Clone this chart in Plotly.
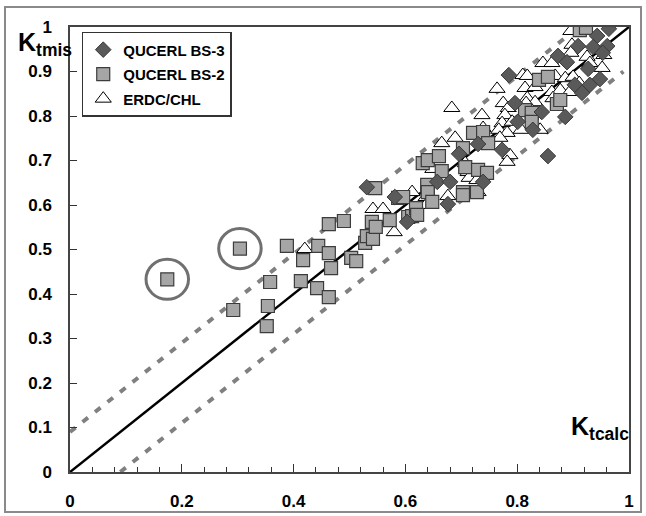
import plotly.graph_objects as go

# ---------------- data ----------------
bs3_x = [0.531, 0.581, 0.657, 0.680, 0.603, 0.676, 0.730, 0.696, 0.739, 0.785,
         0.796, 0.844, 0.801, 0.828, 0.773, 0.855, 0.964, 0.943, 0.909, 0.936,
         0.961, 0.953, 0.873, 0.889, 0.927, 0.948, 0.930, 0.903, 0.916, 0.886]
bs3_y = [0.640, 0.618, 0.652, 0.652, 0.562, 0.602, 0.737, 0.715, 0.652, 0.892,
         0.829, 0.809, 0.787, 0.769, 0.724, 0.710, 0.996, 0.980, 0.957, 0.955,
         0.957, 0.942, 0.935, 0.921, 0.906, 0.883, 0.870, 0.870, 0.852, 0.798]

bs2_x = [0.174, 0.304, 0.292, 0.354, 0.352, 0.358, 0.388, 0.413, 0.417, 0.442,
         0.444, 0.463, 0.463, 0.467, 0.463, 0.490, 0.503, 0.512, 0.528, 0.531,
         0.542, 0.540, 0.547, 0.546, 0.572, 0.587, 0.596, 0.605, 0.612, 0.619,
         0.621, 0.640, 0.639, 0.640, 0.648, 0.631, 0.640, 0.660, 0.665, 0.703,
         0.703, 0.703, 0.707, 0.728, 0.730, 0.746, 0.721, 0.739, 0.748, 0.814,
         0.826, 0.826, 0.839, 0.855, 0.871, 0.877, 0.912, 0.923]
bs2_y = [0.433, 0.502, 0.364, 0.373, 0.328, 0.427, 0.508, 0.429, 0.476, 0.413,
         0.508, 0.557, 0.492, 0.458, 0.393, 0.564, 0.481, 0.474, 0.515, 0.530,
         0.524, 0.562, 0.551, 0.638, 0.566, 0.616, 0.618, 0.573, 0.575, 0.593,
         0.578, 0.638, 0.645, 0.629, 0.607, 0.694, 0.701, 0.710, 0.676, 0.728,
         0.629, 0.622, 0.685, 0.629, 0.679, 0.672, 0.762, 0.764, 0.739, 0.813,
         0.807, 0.787, 0.881, 0.888, 0.827, 0.836, 0.993, 0.998]

erdc_x = [0.896, 0.898, 0.896, 0.955, 0.846, 0.862, 0.925, 0.930, 0.952, 0.810,
          0.818, 0.868, 0.886, 0.900, 0.911, 0.814, 0.832, 0.862, 0.877, 0.894,
          0.864, 0.818, 0.832, 0.764, 0.683, 0.775, 0.784, 0.816, 0.737, 0.778,
          0.773, 0.791, 0.807, 0.841, 0.689, 0.665, 0.739, 0.767, 0.782, 0.769,
          0.787, 0.782, 0.649, 0.707, 0.712, 0.714, 0.728, 0.676, 0.612, 0.637,
          0.637, 0.542, 0.560, 0.580, 0.420, 0.730]
erdc_y = [0.991, 0.960, 0.942, 0.937, 0.919, 0.919, 0.933, 0.919, 0.908, 0.892,
          0.890, 0.890, 0.885, 0.888, 0.874, 0.863, 0.865, 0.854, 0.858, 0.854,
          0.840, 0.840, 0.831, 0.861, 0.818, 0.829, 0.818, 0.829, 0.802, 0.802,
          0.784, 0.787, 0.769, 0.769, 0.751, 0.739, 0.773, 0.769, 0.762, 0.751,
          0.712, 0.697, 0.681, 0.694, 0.674, 0.661, 0.656, 0.620, 0.629, 0.618,
          0.600, 0.591, 0.591, 0.539, 0.501, 0.629]

line_x = [0.0, 1.0]
line_y = [0.0, 1.0]
upper_x = [0.0, 0.91]
upper_y = [0.09, 1.0]
lower_x = [0.09, 0.99]
lower_y = [0.0, 0.90]

circled = [(0.174, 0.433), (0.304, 0.502)]

x_ticks = [0, 0.2, 0.4, 0.6, 0.8, 1]
x_labels = ["0", "0.2", "0.4", "0.6", "0.8", "1"]
y_ticks = [0, 0.1, 0.2, 0.3, 0.4, 0.5, 0.6, 0.7, 0.8, 0.9, 1]
y_labels = ["0", "0.1", "0.2", "0.3", "0.4", "0.5", "0.6", "0.7", "0.8", "0.9", "1"]

FONT = "Liberation Sans, Arial, sans-serif"

fig = go.Figure()

fig.add_trace(go.Scatter(x=line_x, y=line_y, mode="lines",
                         line=dict(color="black", width=2.5),
                         showlegend=False, hoverinfo="skip"))
for lx, ly in ((upper_x, upper_y), (lower_x, lower_y)):
    fig.add_trace(go.Scatter(x=lx, y=ly, mode="lines",
                             line=dict(color="#808080", width=4, dash="7px,9px"),
                             showlegend=False, hoverinfo="skip"))

fig.add_trace(go.Scatter(x=erdc_x, y=erdc_y, mode="markers", name="ERDC/CHL",
                         legendrank=3, legendgroup="c",
                         marker=dict(symbol="triangle-up", size=14, color="white",
                                     line=dict(color="black", width=1))))
fig.add_trace(go.Scatter(x=bs2_x, y=bs2_y, mode="markers", name="QUCERL BS-2",
                         legendrank=2, legendgroup="b",
                         marker=dict(symbol="square", size=13, color="#a6a6a6",
                                     line=dict(color="#3c3c3c", width=1.2))))
fig.add_trace(go.Scatter(x=bs3_x, y=bs3_y, mode="markers", name="QUCERL BS-3",
                         legendrank=1, legendgroup="a",
                         marker=dict(symbol="diamond", size=12, color="#5a5a5a",
                                     line=dict(color="#3a3a3a", width=1))))

# circles around two points
for cx, cy in circled:
    fig.add_shape(type="circle", xref="x", yref="y",
                  x0=cx - 0.038, x1=cx + 0.038, y0=cy - 0.045, y1=cy + 0.045,
                  line=dict(color="#707070", width=3))

# outer frame
fig.add_shape(type="rect", xref="paper", yref="paper",
              x0=-0.1163, x1=1.0215, y0=-0.0899, y1=1.0449,
              line=dict(color="#8a8a8a", width=2), layer="below")

fig.add_annotation(xref="paper", yref="paper", x=-0.096, y=0.962,
                   xanchor="left", yanchor="middle", showarrow=False,
                   text="K<sub>tmis</sub>",
                   font=dict(family=FONT, size=25, color="black", weight="bold"))
fig.add_annotation(xref="paper", yref="paper", x=0.892, y=0.10,
                   xanchor="left", yanchor="middle", showarrow=False,
                   text="K<sub>tcalc</sub>",
                   font=dict(family=FONT, size=25, color="black", weight="bold"))

fig.update_layout(
    width=646, height=516,
    margin=dict(l=70, r=17, t=27, b=44, autoexpand=False),
    paper_bgcolor="white", plot_bgcolor="white",
    font=dict(family=FONT, size=17, color="black", weight="bold"),
    legend=dict(x=0.021, y=0.989, xanchor="left", yanchor="top",
                bordercolor="#333333", borderwidth=1.5, bgcolor="white",
                font=dict(family=FONT, size=15, color="black", weight="bold"),
                tracegroupgap=2, itemwidth=30),
    xaxis=dict(range=[0, 1], tickvals=x_ticks, ticktext=x_labels,
               automargin=False,
               ticks="inside", ticklen=8, tickwidth=1, tickcolor="#333",
               showgrid=False, zeroline=False, showline=True, linecolor="#444",
               linewidth=1.5, mirror=True, ticklabelstandoff=13,
               minor=dict(dtick=0.04, tick0=0, ticks="inside", ticklen=5,
                          tickcolor="#333", showgrid=False)),
    yaxis=dict(range=[0, 1], tickvals=y_ticks, ticktext=y_labels,
               automargin=False,
               ticks="inside", ticklen=7, tickwidth=1, tickcolor="#333",
               showgrid=False, zeroline=False, showline=True, linecolor="#444",
               linewidth=1.5, mirror=True, ticklabelstandoff=13),
)

fig.write_html("out.html", config={"displayModeBar": False},
               post_script="document.body.style.margin='0';"
                           "document.body.style.overflow='hidden';")
